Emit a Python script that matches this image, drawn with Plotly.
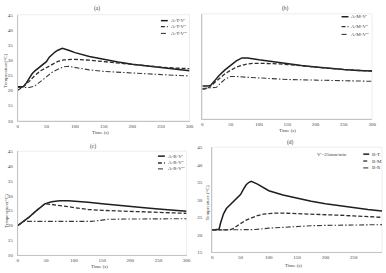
import plotly.graph_objects as go

W, H = 386, 273

# ---------------- data ----------------
# Panel (a)
a_t1 = [0, 10, 15, 20, 25, 30, 35, 40, 45, 50, 55, 60, 65, 70, 78, 90, 100, 125, 150, 175, 200, 225, 250, 275, 300]
a_v1 = [21.2, 21.3, 22.5, 24, 25.5, 26.5, 27.2, 27.8, 28.5, 29.5, 31, 32, 32.7, 33.3, 33.9, 33.2, 32.5, 31.2, 30.2, 29.4, 28.7, 28.1, 27.5, 27.0, 26.5]
a_t2 = [0, 10, 20, 30, 40, 50, 60, 70, 80, 90, 100, 125, 150, 175, 200, 225, 250, 275, 300]
a_v2 = [20.1, 21.3, 23, 25, 26.5, 27.5, 28.7, 29.6, 30.1, 30.3, 30.3, 30.0, 29.5, 29.0, 28.5, 28.1, 27.7, 27.4, 27.2]
a_t3 = [0, 10, 20, 30, 40, 50, 60, 70, 80, 88, 100, 125, 150, 175, 200, 225, 250, 275, 300]
a_v3 = [21.0, 21.0, 21.0, 21.5, 23, 24.8, 26, 27, 27.8, 28, 27.6, 26.8, 26.3, 26.0, 25.7, 25.4, 25.2, 25.0, 24.8]
a_names = ["A-T-V'", "A-T-V''", "A-T-V'''"]

# Panel (b)
b_t1 = [0, 10, 15, 20, 25, 30, 40, 50, 60, 70, 80, 100, 125, 150, 175, 200, 225, 250, 275, 300]
b_v1 = [20.9, 20.9, 21.2, 22.3, 23.5, 24.5, 26.3, 27.8, 29.3, 30.3, 30.3, 29.7, 29.0, 28.4, 27.8, 27.3, 26.8, 26.4, 26.1, 25.9]
b_t2 = [0, 10, 20, 30, 40, 50, 60, 70, 80, 90, 100, 125, 150, 175, 200, 225, 250, 275, 300]
b_v2 = [19.8, 20.2, 21.8, 23.5, 25, 26.2, 27.2, 27.8, 28.3, 28.5, 28.5, 28.4, 28.1, 27.6, 27.2, 26.8, 26.4, 26.1, 25.9]
b_t3 = [0, 10, 20, 25, 30, 40, 50, 55, 60, 75, 100, 125, 150, 200, 250, 300]
b_v3 = [20.1, 20.2, 20.3, 20.5, 21.5, 23.2, 24.1, 24.2, 24.1, 23.9, 23.6, 23.3, 23.1, 22.9, 22.7, 22.5]
b_names = ["A-M-V'", "A-M-V''", "A-M-V'''"]

# Panel (c)
c_t1 = [0, 10, 20, 30, 40, 48, 60, 75, 90, 100, 125, 150, 175, 200, 225, 250, 275, 300]
c_v1 = [20, 21.3, 22.8, 24.5, 26.2, 27.3, 28, 28.3, 28.3, 28.2, 27.8, 27.3, 26.8, 26.4, 26.0, 25.6, 25.2, 24.8]
c_t2 = [0, 10, 20, 30, 40, 48, 60, 80, 100, 125, 150, 175, 200, 250, 300]
c_v2 = [20, 21.3, 22.8, 24.5, 26.2, 27.3, 27.1, 26.6, 25.9, 25.4, 25.1, 24.9, 24.7, 24.4, 24.1]
c_t3 = [0, 5, 10, 50, 100, 130, 145, 160, 200, 250, 300]
c_v3 = [20, 20.8, 21.4, 21.4, 21.4, 21.4, 21.7, 22.1, 22.2, 22.3, 22.3]
c_names = ["A-R-V'", "A-R-V''", "A-R-V'''"]

# Panel (d)
d_t1 = [0, 10, 12, 15, 20, 25, 30, 35, 40, 45, 50, 55, 60, 65, 69, 80, 100, 125, 150, 175, 200, 225, 250, 275, 300]
d_v1 = [21.4, 21.4, 21.6, 23.5, 26, 27.5, 28.3, 29, 29.8, 30.5, 31.5, 33, 34.3, 35, 35.3, 34.5, 32.6, 31.4, 30.4, 29.6, 28.9, 28.3, 27.7, 27.2, 26.8]
d_t2 = [0, 20, 30, 35, 40, 50, 60, 70, 80, 90, 100, 110, 125, 150, 175, 200, 225, 250, 275, 300]
d_v2 = [21.4, 21.3, 21.4, 21.6, 22.2, 23.2, 24.2, 24.9, 25.5, 25.9, 26.1, 26.2, 26.2, 26.1, 26.0, 25.8, 25.6, 25.4, 25.2, 25.0]
d_t3 = [0, 25, 50, 75, 100, 125, 150, 175, 200, 250, 300]
d_v3 = [21.4, 21.4, 21.4, 21.5, 21.9, 22.2, 22.4, 22.6, 22.7, 22.8, 22.9]
d_names = ["B-T", "B-M", "B-R"]

x_ticks = [0, 50, 100, 150, 200, 250, 300]
y_ticks_abc = [10, 15, 20, 25, 30, 35, 40, 45]
y_ticks_d = [15, 20, 25, 30, 35, 40, 45]

# ---------------- helpers ----------------
FONT = "Liberation Serif"
def px(x):
    return x / W
def py(y):
    return 1 - y / H

styles = [
    dict(color="#1e1e1e", width=1.5, dash="solid"),
    dict(color="#2e2e2e", width=1.3, dash="4px,2px"),
    dict(color="#3a3a3a", width=1.1, dash="5px,2px,1.5px,2px"),
]

fig = go.Figure()

panels = [
    # id, data, names, x px range, y px range (top,bottom), yrange, yticks, show y labels, label standoff
    ("", [(a_t1, a_v1), (a_t2, a_v2), (a_t3, a_v3)], a_names, (17, 191), (13, 121), [10, 45], y_ticks_abc, True, 3),
    ("2", [(b_t1, b_v1), (b_t2, b_v2), (b_t3, b_v3)], b_names, (204, 376), (12, 119), [10, 45], y_ticks_abc, False, 3),
    ("3", [(c_t1, c_v1), (c_t2, c_v2), (c_t3, c_v3)], c_names, (17, 188), (152, 258), [10, 45], y_ticks_abc, True, 3),
    ("4", [(d_t1, d_v1), (d_t2, d_v2), (d_t3, d_v3)], d_names, (214, 386), (148, 255), [15, 45], y_ticks_d, True, 8),
]

layout = dict(
    width=W, height=H,
    margin=dict(l=0, r=0, t=0, b=0),
    paper_bgcolor="white", plot_bgcolor="white",
    showlegend=False,
    font=dict(family=FONT, size=5, color="#404040"),
)

shapes = []
annotations = []

for pid, series, names, (x0, x1), (y0, y1), yr, yt, showy, stand in panels:
    xa = "x" + pid
    ya = "y" + pid
    for (t, v), st in zip(series, styles):
        fig.add_trace(go.Scatter(x=t, y=v, mode="lines", line=st, xaxis=xa, yaxis=ya,
                                 hoverinfo="skip"))
    layout["xaxis" + pid] = dict(
        domain=[px(x0), px(x1)], range=[0, 300], anchor=ya,
        tickvals=x_ticks, showgrid=False, zeroline=False,
        showline=True, linecolor="#c4c4c4", linewidth=1, ticks="",
        tickfont=dict(family=FONT, size=5, color="#404040"),
    )
    layout["yaxis" + pid] = dict(
        domain=[py(y1), py(y0)], range=yr, anchor=xa,
        tickvals=yt, showgrid=False, zeroline=False,
        showline=True, linecolor="#c4c4c4", linewidth=1, ticks="",
        showticklabels=showy, ticklabelstandoff=stand,
        tickfont=dict(family=FONT, size=5, color="#404040"),
    )
    # faint chart frame
    shapes.append(dict(type="rect", xref="paper", yref="paper",
                       x0=px(x0), x1=px(x1), y0=py(y1), y1=py(y0),
                       line=dict(color="#ededed", width=1), layer="below"))

def ann(text, x, y, size=5, angle=0, xanchor="center"):
    annotations.append(dict(text=text, x=px(x), y=py(y), xref="paper", yref="paper",
                            showarrow=False, textangle=angle, xanchor=xanchor, yanchor="middle",
                            font=dict(family=FONT, size=size, color="#404040")))

# panel titles
ann("(a)", 97, 7, 5.5)
ann("(b)", 288, 7, 5.5)
ann("(c)", 93, 147, 5.5)
ann("(d)", 293, 143, 5.5)

# axis titles
ann("Time (s)", 101, 133)
ann("Time (s)", 290, 131)
ann("Time (s)", 100, 269)
ann("Time (s)", 296, 268)
ann("Temperature(°C)", 5, 70, 5, -90)
ann("Temperature(°C)", 5, 213, 5, -90)
ann("Temperature (°C)", 209, 205, 5, -90)

# legends
def legend(names, xl, xr, rows):
    for name, yy, st in zip(names, rows, styles):
        shapes.append(dict(type="line", xref="paper", yref="paper",
                           x0=px(xl), x1=px(xr), y0=py(yy), y1=py(yy),
                           line=dict(color=st["color"], width=st["width"], dash=st["dash"])))
        ann(name, xr + 1, yy, 5, 0, "left")

legend(a_names, 162, 169, [19, 25, 32])
legend(b_names, 345, 352, [15, 25, 33])
legend(c_names, 159, 166, [157, 164, 170])
legend(d_names, 367, 373, [155, 162, 169])
ann("V'=25mm/min", 335, 155)

layout["shapes"] = shapes
layout["annotations"] = annotations
fig.update_layout(**layout)
fig.write_html("out.html")
